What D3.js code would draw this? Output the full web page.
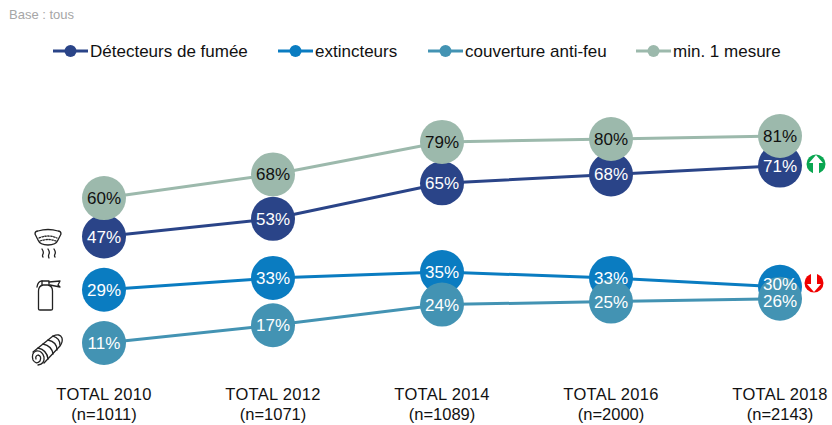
<!DOCTYPE html>
<html>
<head>
<meta charset="utf-8">
<script src="https://cdn.jsdelivr.net/npm/d3@7"></script>
<style>
    body { margin: 0; background: #fff; }
    text { font-family: "Liberation Sans", Arial, sans-serif; }
</style>
</head>
<body>
<div id="SVG_CONTAINER"></div>
<script>
const years = ["TOTAL 2010", "TOTAL 2012", "TOTAL 2014", "TOTAL 2016", "TOTAL 2018"];
const bases = ["(n=1011)", "(n=1071)", "(n=1089)", "(n=2000)", "(n=2143)"];

const seriesNames = ["Détecteurs de fumée", "extincteurs", "couverture anti-feu", "min. 1 mesure"];
const detecteurs = [47, 53, 65, 68, 71];
const extincteurs = [29, 33, 35, 33, 30];
const couverture = [11, 17, 24, 25, 26];
const minMesure = [60, 68, 79, 80, 81];

const seriesColors = ["#2a4488", "#0a7cc1", "#4393b3", "#9cb9ac"];
const labelColors = ["#fff", "#fff", "#fff", "#111"];

//dimension of our workspace
const width = 832,
    height = 425;

const svg = d3.select("#SVG_CONTAINER")
    .append("svg")
    .attr("width", width)
    .attr("height", height)
    .style("display", "block");

const x = d3.scalePoint().domain(years).range([104, 780]);
const y = d3.scaleLinear().domain([11, 81]).range([343, 136]);

const allSeries = [detecteurs, extincteurs, couverture, minMesure];

svg.append("text")
    .attr("x", 9)
    .attr("y", 19)
    .attr("font-size", "13px")
    .attr("fill", "#a6a6a6")
    .text("Base : tous");

// legend
const legendX = [53, 278, 428, 636];
seriesNames.forEach(function (name, i) {
    svg.append("line")
        .attr("x1", legendX[i]).attr("x2", legendX[i] + 35)
        .attr("y1", 51).attr("y2", 51)
        .attr("stroke", seriesColors[i])
        .attr("stroke-width", 3);
    svg.append("circle")
        .attr("cx", legendX[i] + 17.5)
        .attr("cy", 51)
        .attr("r", 6)
        .attr("fill", seriesColors[i]);
    svg.append("text")
        .attr("x", legendX[i] + 37)
        .attr("y", 57)
        .attr("font-size", "17px")
        .attr("fill", "#111")
        .text(name);
});

// lines and circles
const line = d3.line()
    .x(function (d, i) { return x(years[i]); })
    .y(function (d) { return y(d); });

allSeries.forEach(function (values, i) {
    svg.append("path")
        .attr("d", line(values))
        .attr("fill", "none")
        .attr("stroke", seriesColors[i])
        .attr("stroke-width", 3);
    svg.selectAll(".dot" + i)
        .data(values)
        .enter()
        .append("circle")
        .attr("class", "dot" + i)
        .attr("cx", function (d, j) { return x(years[j]); })
        .attr("cy", function (d) { return y(d); })
        .attr("r", 22)
        .attr("fill", seriesColors[i]);
});

// labels too close to the one below get pushed apart, like 30% / 26%
function labelY(i, j) {
    let pos = y(allSeries[i][j]);
    if (i === 1 && y(couverture[j]) - pos < 17) pos = (pos + y(couverture[j])) / 2 - 8.5;
    if (i === 2 && pos - y(extincteurs[j]) < 17) pos = (pos + y(extincteurs[j])) / 2 + 8.5;
    return pos + 6;
}

// value labels go over all the circles
allSeries.forEach(function (values, i) {
    svg.selectAll(".lab" + i)
        .data(values)
        .enter()
        .append("text")
        .attr("class", "lab" + i)
        .attr("x", function (d, j) { return x(years[j]); })
        .attr("y", function (d, j) { return labelY(i, j); })
        .attr("text-anchor", "middle")
        .attr("font-size", "17px")
        .attr("fill", labelColors[i])
        .text(function (d) { return d + "%"; });
});

// x axis labels
years.forEach(function (year, i) {
    svg.append("text")
        .attr("x", x(year))
        .attr("y", 400)
        .attr("text-anchor", "middle")
        .attr("font-size", "16.5px")
        .attr("letter-spacing", "0.3px")
        .attr("fill", "#111")
        .text(year);
    svg.append("text")
        .attr("x", x(year))
        .attr("y", 420)
        .attr("text-anchor", "middle")
        .attr("font-size", "16.5px")
        .attr("fill", "#111")
        .text(bases[i]);
});

// trend arrows
function arrow(cx, cy, color, up) {
    const g = svg.append("g")
        .attr("transform", "translate(" + cx + "," + cy + ")" + (up ? "" : " rotate(180)"));
    g.append("circle").attr("r", 9.5).attr("fill", color);
    g.append("path")
        .attr("d", "M0,-9 L7,-1 L3,-1 L3,10 L-3,10 L-3,-1 L-7,-1 Z")
        .attr("fill", "#fff");
}
arrow(816, 164, "#0aa651", true);
arrow(814, 283, "#f00000", false);

// icons
const icons = svg.append("g")
    .attr("fill", "none")
    .attr("stroke", "#222")
    .attr("stroke-width", 1.3)
    .attr("stroke-linecap", "round")
    .attr("stroke-linejoin", "round");

// smoke detector
icons.append("path").attr("d", "M35,234 Q35,231 38,231 Q48,228 58,231 Q61,231 61,234 L58,240 Q56,245 48,245 Q40,245 38,240 Z");
icons.append("path").attr("d", "M39,238 Q48,234 57,238").attr("stroke-dasharray", "1.5 1.5");
icons.append("path").attr("d", "M40,241 Q48,238 56,241").attr("stroke-dasharray", "1.5 1.5");
icons.append("path").attr("d", "M42,249 Q44,252 43,254 Q42,256 43,257");
icons.append("path").attr("d", "M48,249 Q50,252 49,254 Q48,256 49,258");
icons.append("path").attr("d", "M54,249 Q56,252 55,254 Q54,256 55,257");

// fire extinguisher
icons.append("path").attr("d", "M38.5,309 L38.5,291 Q38.5,286 43,285 L48,285 Q52.5,286 52.5,291 L52.5,309 Q52.5,310 51,310 L40,310 Q38.5,310 38.5,309 Z");
icons.append("path").attr("d", "M42,285 L42,281 L49,281 L49,285");
icons.append("path").attr("d", "M49,282 L60,281 L58,285 L60,287 L50,285");
icons.append("path").attr("d", "M42,281 Q38,281 37,287");

// fire blanket roll
icons.append("path").attr("d", "M33,352 L53,336 Q60,333 62,338 Q63,342 60,346 L44,363");
icons.append("path").attr("d", "M38,365 Q45,364 44,357 Q42,350 36,351 Q31,353 33,360 Q36,365 40,361 Q42,356 38,355 Q35,356 36,359");
icons.append("path").attr("d", "M38,348 Q47,350 48,359");
icons.append("path").attr("d", "M43,344 Q52,346 53,354");
icons.append("path").attr("d", "M48,340 Q57,342 57,350");
icons.append("path").attr("d", "M53,336 Q60,338 60,345");
</script>
</body>
</html>
